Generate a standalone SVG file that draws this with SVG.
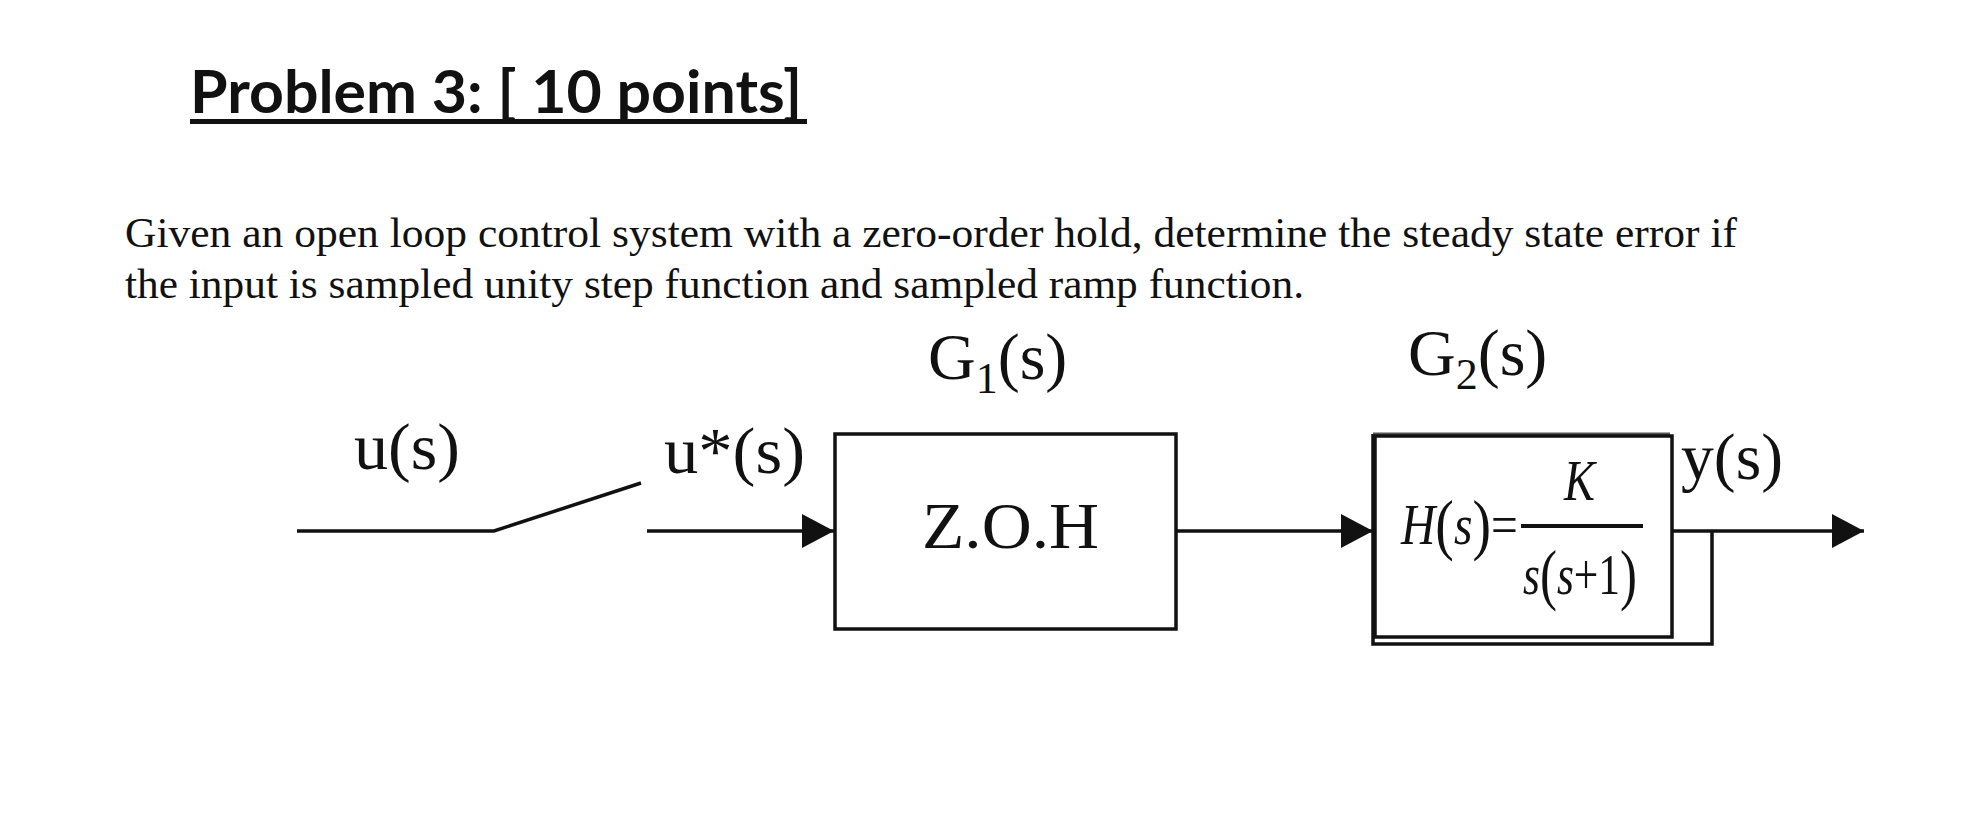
<svg xmlns="http://www.w3.org/2000/svg" width="1962" height="822" viewBox="0 0 1962 822">
  <style>
    .title { font-family: "Lato", "Liberation Sans", sans-serif; font-weight: bold; font-size: 60px; fill: #111; }
    .para { font-family: "Liberation Serif", serif; font-size: 42px; fill: #111; }
    .lbl { font-family: "Liberation Serif", serif; font-size: 66px; fill: #111; }
    .sub { font-family: "Liberation Serif", serif; font-size: 44px; fill: #111; }
    .math { font-family: "Liberation Serif", serif; font-size: 58px; fill: #111; }
    .par { font-size: 68px; }
    .it { font-style: italic; }
    .box { fill: #fff; stroke: #111; stroke-width: 3.5; }
    .wire { fill: none; stroke: #111; stroke-width: 3.5; }
  </style>
  <defs>
    <marker id="arrow" markerUnits="userSpaceOnUse" markerWidth="32" markerHeight="34" refX="32" refY="17" orient="auto">
      <path d="M0,0 L32,17 L0,34 Z" fill="#111"/>
    </marker>
  </defs>
  <rect width="1962" height="822" fill="#fff"/>

  <g id="title">
    <text class="title" x="190" y="113" textLength="612" lengthAdjust="spacingAndGlyphs">Problem 3: [ 10 points]</text>
    <rect x="190" y="119" width="617" height="5" fill="#111"/>
  </g>

  <g id="statement">
    <text class="para" x="125" y="247" textLength="1612" lengthAdjust="spacingAndGlyphs">Given an open loop control system with a zero-order hold, determine the steady state error if</text>
    <text class="para" x="125" y="298" textLength="1179" lengthAdjust="spacingAndGlyphs">the input is sampled unity step function and sampled ramp function.</text>
  </g>

  <g id="connectors">
    <polyline class="wire" points="297,531 494,531 641,483"/>
    <line class="wire" x1="647" y1="531" x2="834" y2="531" marker-end="url(#arrow)"/>
    <line class="wire" x1="1176" y1="531" x2="1373" y2="531" marker-end="url(#arrow)"/>
    <line class="wire" x1="1672" y1="531" x2="1864" y2="531" marker-end="url(#arrow)"/>
    <polyline class="wire" points="1373,434 1373,644 1712,644 1712,531"/>
    <line x1="1373" y1="434" x2="1670" y2="434" stroke="#555" stroke-width="3"/>
  </g>

  <g id="label-u">
    <text class="lbl" x="354" y="469" textLength="106" lengthAdjust="spacingAndGlyphs">u(s)</text>
  </g>
  <g id="label-ustar">
    <text class="lbl" x="664" y="473" textLength="141" lengthAdjust="spacingAndGlyphs">u*(s)</text>
  </g>

  <g id="node-zoh">
    <rect class="box" x="835" y="434" width="341" height="195"/>
    <text class="lbl" x="922" y="548" font-size="68" textLength="177" lengthAdjust="spacingAndGlyphs">Z.O.H</text>
    <text class="lbl" x="928" y="379">G<tspan class="sub" dy="14">1</tspan><tspan dy="-14">(s)</tspan></text>
  </g>

  <g id="node-plant">
    <rect class="box" x="1375" y="436" width="297" height="201" stroke-width="4"/>
    <g transform="translate(1401,544) scale(0.82,1)">
      <text class="math" x="0" y="0"><tspan class="it">H</tspan><tspan class="par" dy="3">(</tspan><tspan class="it" dy="-3">s</tspan><tspan class="par" dy="3">)</tspan><tspan dy="-3">=</tspan></text>
    </g>
    <rect x="1521" y="524" width="122" height="4" fill="#111"/>
    <g transform="translate(1564,500) scale(0.8,1)">
      <text class="math it" x="0" y="0">K</text>
    </g>
    <g transform="translate(1523,594) scale(0.75,1)">
      <text class="math" x="0" y="0"><tspan class="it">s</tspan><tspan class="par" dy="3">(</tspan><tspan class="it" dy="-3">s</tspan>+1<tspan class="par" dy="3">)</tspan></text>
    </g>
    <text class="lbl" x="1408" y="375">G<tspan class="sub" dy="14">2</tspan><tspan dy="-14">(s)</tspan></text>
  </g>

  <g id="label-y">
    <text class="lbl" x="1681" y="479" textLength="102" lengthAdjust="spacingAndGlyphs">y(s)</text>
  </g>
</svg>
